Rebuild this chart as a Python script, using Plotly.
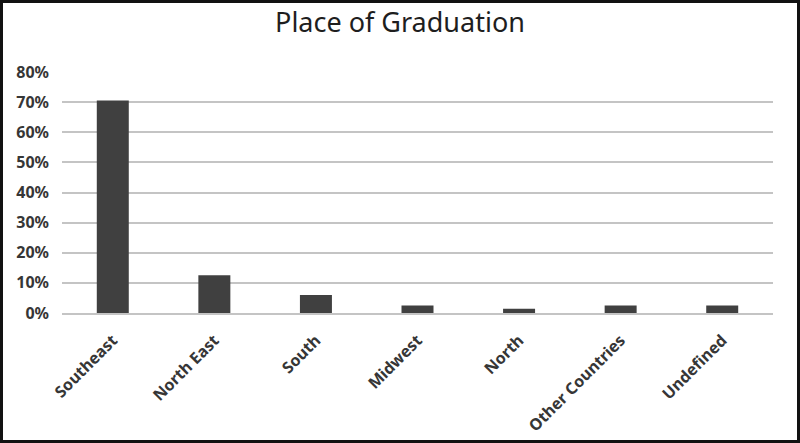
import plotly.graph_objects as go

categories = ["Southeast", "North East", "South", "Midwest", "North", "Other Countries", "Undefined"]
values = [0.705, 0.125, 0.06, 0.025, 0.014, 0.025, 0.025]
y_ticks = [0, 0.1, 0.2, 0.3, 0.4, 0.5, 0.6, 0.7, 0.8]

W, H = 800, 443
ml, mr, mt, mb = 62, 27, 72, 130
pw, ph = W - ml - mr, H - mt - mb

fig = go.Figure(go.Bar(x=categories, y=values, marker=dict(color="#404040", line=dict(width=0)),
                       width=0.315))

fig.update_layout(
    width=W, height=H,
    margin=dict(l=ml, r=mr, t=mt, b=mb, autoexpand=False),
    paper_bgcolor="white", plot_bgcolor="white",
    font=dict(family="Noto Sans, Open Sans, sans-serif", color="#333333"),
    title=dict(text="Place of Graduation", x=0.5, xanchor="center", y=0.95, yanchor="middle",
               font=dict(size=27, color="#1e1e1e", family="Noto Sans, sans-serif")),
    showlegend=False,
)
fig.update_yaxes(range=[0, 0.8], tickvals=y_ticks, tickformat=".0%", showgrid=True,
                 gridcolor="#c4c4c4", gridwidth=1.5, zeroline=False, showline=False, automargin=False,
                 tickfont=dict(size=16, color="#363636", weight="bold"), ticks="", ticklabelstandoff=12)
fig.update_xaxes(tickangle=-45, showgrid=False, showline=True, linecolor="#c4c4c4", linewidth=1.5,
                 automargin=False,
                 tickfont=dict(size=16, color="#363636", weight="bold"), ticks="", ticklabelstandoff=10)

# outer frame
fig.add_shape(type="rect", xref="paper", yref="paper",
              x0=-(ml - 1.5) / pw, x1=1 + (mr - 1.5) / pw,
              y0=-(mb - 1.5) / ph, y1=1 + (mt - 1.5) / ph,
              line=dict(color="#111111", width=3), layer="above")

fig.write_html("out.html")
